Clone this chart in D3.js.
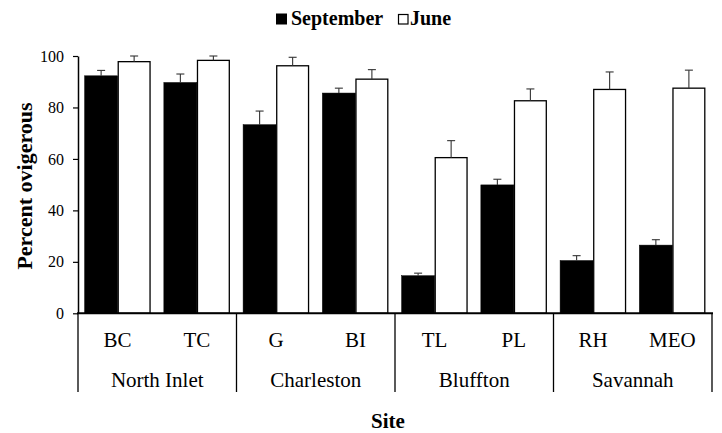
<!DOCTYPE html>
<html><head><meta charset="utf-8">
<script src="https://cdn.jsdelivr.net/npm/d3@7"></script>
<style>
html,body{margin:0;padding:0;background:#fff;}
svg text{font-family:"Liberation Serif","Times New Roman",serif;fill:#000;}
</style>
</head><body>
<svg id="chart" width="722" height="433"></svg>
<script>
const sites = ["BC","TC","G","BI","TL","PL","RH","MEO"];
const regions = ["North Inlet","Charleston","Bluffton","Savannah"];
const seriesNames = ["September","June"];
const septVals = [92.3, 89.7, 73.3, 85.6, 14.6, 49.9, 20.5, 26.5];
const septErr  = [2.1, 3.3, 5.3, 1.9, 1.0, 2.2, 1.9, 2.1];
const juneVals = [97.8, 98.3, 96.2, 91.0, 60.5, 82.6, 87.0, 87.5];
const juneErr  = [2.2, 1.7, 3.3, 3.7, 6.6, 4.6, 6.8, 7.0];
const yTicks = [0, 20, 40, 60, 80, 100];

(function () {
const svg = d3.select("#chart");
const mLeft = 78, mRight = 712, mTop = 56, mBottom = 313.3;

const x = d3.scaleBand().domain(sites).range([mLeft, mRight]).padding(0);
const xs = d3.scaleBand().domain(seriesNames).range([0, x.bandwidth()]).paddingInner(0).paddingOuter(0.2);
const y = d3.scaleLinear().domain([0, 100]).range([mBottom, mTop]);

const series = [
  {name: "September", vals: septVals, err: septErr, fill: "#000"},
  {name: "June", vals: juneVals, err: juneErr, fill: "#fff"}
];

series.forEach(s => {
  const g = svg.append("g");
  const isWhite = s.fill === "#fff";
  g.selectAll("rect").data(sites).join("rect")
    .attr("x", d => x(d) + xs(s.name) + (isWhite ? 0.6 : 0))
    .attr("y", (d, i) => y(s.vals[i]))
    .attr("width", xs.bandwidth() - (isWhite ? 1.2 : 0))
    .attr("height", (d, i) => y(0) - y(s.vals[i]))
    .attr("fill", s.fill)
    .attr("stroke", "#000")
    .attr("stroke-width", isWhite ? 1.3 : 0.5);
  const eg = svg.append("g").attr("stroke", "#333").attr("stroke-width", 1.1);
  sites.forEach((d, i) => {
    const cx = x(d) + xs(s.name) + xs.bandwidth() / 2;
    eg.append("line").attr("x1", cx).attr("x2", cx)
      .attr("y1", y(s.vals[i])).attr("y2", y(s.vals[i] + s.err[i]));
    eg.append("line").attr("x1", cx - 4).attr("x2", cx + 4)
      .attr("y1", y(s.vals[i] + s.err[i])).attr("y2", y(s.vals[i] + s.err[i]));
  });
});

const yAxis = d3.axisLeft(y).tickValues(yTicks).tickSize(5).tickPadding(9).tickSizeOuter(0);
const ya = svg.append("g").attr("transform", `translate(${mLeft},0)`).call(yAxis)
  .attr("font-family", "Liberation Serif, serif");
ya.select(".domain").attr("stroke", "#000").attr("stroke-width", 1.5);
ya.selectAll(".tick line").attr("stroke", "#000").attr("stroke-width", 1.2);
ya.selectAll(".tick text").style("font-size", "16px").style("font-family", "Liberation Serif, serif").attr("fill", "#000");

svg.append("line").attr("x1", mLeft - 1).attr("x2", mRight + 1)
  .attr("y1", mBottom).attr("y2", mBottom).attr("stroke", "#000").attr("stroke-width", 2);

const divX = regions.map((r, i) => x(sites[2 * i])).concat([x.range()[1]]);
svg.append("g").selectAll("line").data(divX).join("line")
  .attr("x1", d => d).attr("x2", d => d)
  .attr("y1", mBottom).attr("y2", 392)
  .attr("stroke", "#000").attr("stroke-width", 1.3);

svg.append("g").selectAll("text").data(sites).join("text")
  .attr("x", d => x(d) + x.bandwidth() / 2)
  .attr("y", 347)
  .attr("text-anchor", "middle")
  .style("font-size", "21px")
  .text(d => d);

svg.append("g").selectAll("text").data(regions).join("text")
  .attr("x", (d, i) => (divX[i] + divX[i + 1]) / 2)
  .attr("y", 386.5)
  .attr("text-anchor", "middle")
  .style("font-size", "21px")
  .text(d => d);

svg.append("text").attr("x", 388).attr("y", 428)
  .attr("text-anchor", "middle").style("font-size", "21px").style("font-weight", "bold")
  .text("Site");
svg.append("text")
  .attr("transform", "translate(32,186) rotate(-90)")
  .attr("text-anchor", "middle").style("font-size", "22px").style("font-weight", "bold")
  .text("Percent ovigerous");

const lg = svg.append("g");
lg.append("rect").attr("x", 276).attr("y", 13.5).attr("width", 11).attr("height", 11).attr("fill", "#000");
lg.append("text").attr("x", 291).attr("y", 25).style("font-size", "20px").style("font-weight", "bold").text(seriesNames[0]);
lg.append("rect").attr("x", 398.5).attr("y", 14.5).attr("width", 9.5).attr("height", 9.5)
  .attr("fill", "#fff").attr("stroke", "#000").attr("stroke-width", 1.2);
lg.append("text").attr("x", 410).attr("y", 25).style("font-size", "20px").style("font-weight", "bold").text(seriesNames[1]);
})();
</script>
</body></html>
